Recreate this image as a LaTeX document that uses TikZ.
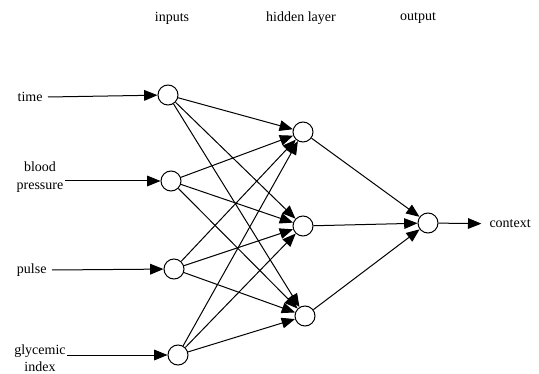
\documentclass[tikz,border=0pt]{standalone}
\usepackage{fontspec}
\setmainfont{Liberation Serif}
\usetikzlibrary{arrows.meta}
\tikzset{every picture/.style={line width=0.75pt}}

\begin{document}
\begin{tikzpicture}[x=0.75pt,y=0.75pt,yscale=-1,xscale=1,
  neuron/.style={draw, circle, minimum size=15pt, inner sep=0pt},
  lbl/.style={inner sep=0.75pt, font=\fontsize{10.5}{13}\selectfont, align=center},
  link/.style={-{Triangle[length=10pt,width=8pt]}}]
\useasboundingbox (0,0) rectangle (539,374);

% Layer titles
\node[lbl] (tin) at (172,18) {inputs};
\node[lbl] (thid) at (301,18) {hidden layer};
\node[lbl] (tout) at (418,18) {output};

% Input neurons
\node[neuron] (i1) at (168,95) {};
\node[neuron] (i2) at (171,181) {};
\node[neuron] (i3) at (174,269) {};
\node[neuron] (i4) at (178,355) {};
% Hidden neurons
\node[neuron] (h1) at (303,132) {};
\node[neuron] (h2) at (303,226) {};
\node[neuron] (h3) at (305,316) {};
% Output neuron
\node[neuron] (o1) at (428,223) {};

% Input labels
\node[lbl, anchor=east] (time) at (44,97) {time};
\node[lbl] (bp) at (40,177) {blood\\pressure};
\node[lbl, anchor=east] (pulse) at (48,270) {pulse};
\node[lbl] (gi) at (40,358) {glycemic\\index};
\node[lbl, anchor=west] (ctx) at (488,224) {context};

% Inputs into the network
\draw[link] ([xshift=3pt]time.east) -- (i1);
\draw[link] (bp.east |- i2) -- (i2);
\draw[link] ([xshift=3pt]pulse.east) -- (i3);
\draw[link] (gi.east |- i4) -- (i4);

% Input to hidden
\foreach \i in {1,...,4}
  \foreach \j in {1,2,3}
    \draw[link] (i\i) -- (h\j);
% Hidden to output
\foreach \j in {1,2,3}
  \draw[link] (h\j) -- (o1);
\draw[link, shorten >=5pt] (o1) -- (ctx);

\end{tikzpicture}
\end{document}
